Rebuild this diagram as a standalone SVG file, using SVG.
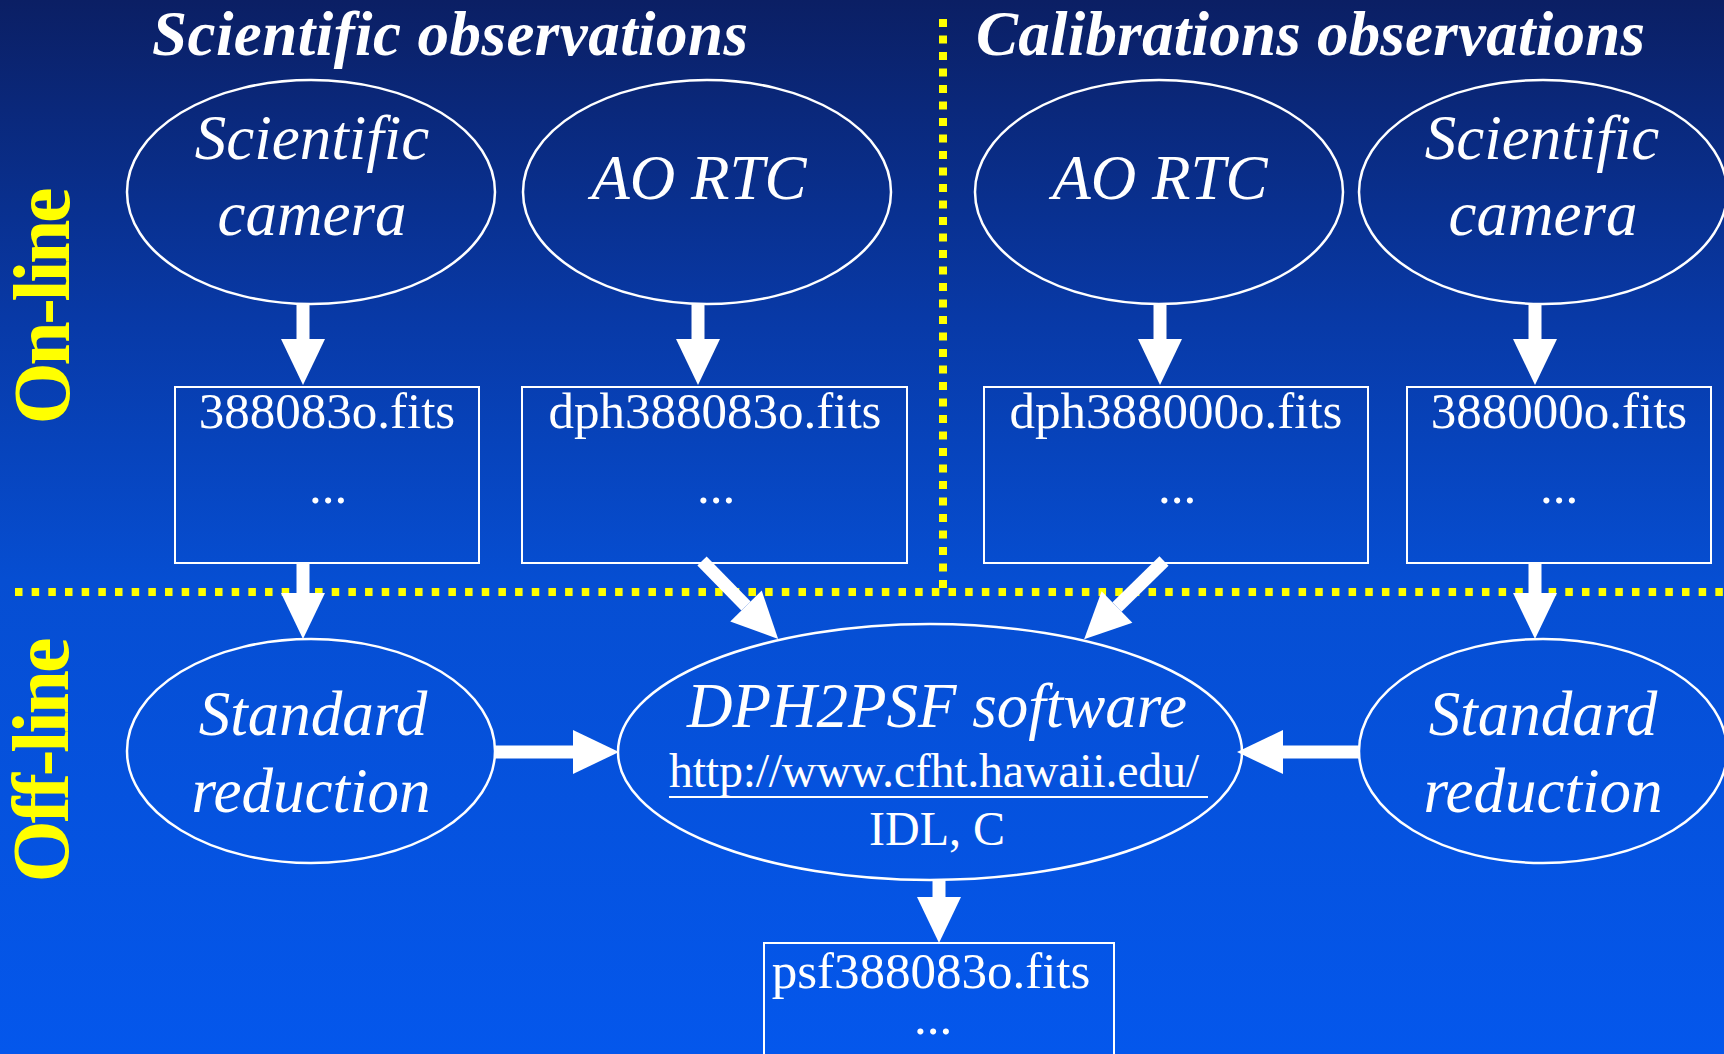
<svg xmlns="http://www.w3.org/2000/svg" width="1724" height="1054" viewBox="0 0 1724 1054">
  <defs>
    <linearGradient id="bg" x1="0" y1="0" x2="0" y2="1">
      <stop offset="0" stop-color="#0b1f64"/>
      <stop offset="0.3" stop-color="#0839a6"/>
      <stop offset="0.55" stop-color="#064ed2"/>
      <stop offset="1" stop-color="#0457ec"/>
    </linearGradient>
    <marker id="head" markerUnits="userSpaceOnUse" markerWidth="46" markerHeight="44" refX="0" refY="22" orient="auto" overflow="visible">
      <path d="M0,0 L46,22 L0,44 Z" fill="#ffffff"/>
    </marker>
  </defs>
  <style>
    .node { fill: none; stroke: #ffffff; stroke-width: 2.5; }
    .box { fill: none; stroke: #ffffff; stroke-width: 2; }
    .lbl { font-family: "Liberation Serif", "Times New Roman", serif; fill: #ffffff; text-anchor: middle; }
    .it { font-style: italic; font-size: 63px; }
    .file { font-size: 51px; }
    .small { font-size: 48px; }
    .title { font-family: "Liberation Serif", "Times New Roman", serif; font-style: italic; font-weight: bold; font-size: 63px; fill: #ffffff; }
    .side { font-family: "Liberation Serif", "Times New Roman", serif; font-weight: bold; font-size: 80px; fill: #ffff00; text-anchor: middle; }
    .arrow { stroke: #ffffff; stroke-width: 13; fill: none; marker-end: url(#head); }
    .dots { stroke: #ffff00; fill: none; }
  </style>

  <!-- background -->
  <rect x="0" y="0" width="1724" height="1054" fill="url(#bg)"/>

  <!-- section separators -->
  <g id="separators">
    <line class="dots" x1="943" y1="19" x2="943" y2="592" stroke-width="8" stroke-dasharray="8 8.5"/>
    <line class="dots" x1="15" y1="592" x2="1724" y2="592" stroke-width="8" stroke-dasharray="7.5 9.17"/>
  </g>

  <!-- headings -->
  <g id="headings">
    <text class="title" x="152" y="55" textLength="596">Scientific observations</text>
    <text class="title" x="976" y="55" textLength="669">Calibrations observations</text>
    <text class="side" transform="translate(69,306) rotate(-90)" textLength="237">On-line</text>
    <text class="side" transform="translate(68,760) rotate(-90)" textLength="245">Off-line</text>
  </g>

  <!-- connectors -->
  <g id="connectors">
    <line class="arrow" x1="303" y1="304" x2="303" y2="339"/>
    <line class="arrow" x1="698" y1="304" x2="698" y2="339"/>
    <line class="arrow" x1="1160" y1="304" x2="1160" y2="339"/>
    <line class="arrow" x1="1535" y1="304" x2="1535" y2="339"/>
    <line class="arrow" x1="303" y1="563" x2="303" y2="593"/>
    <line class="arrow" x1="1535" y1="563" x2="1535" y2="593"/>
    <line class="arrow" x1="702" y1="561" x2="746" y2="606"/>
    <line class="arrow" x1="1164" y1="561" x2="1117" y2="607"/>
    <line class="arrow" x1="495" y1="752" x2="573" y2="752"/>
    <line class="arrow" x1="1360" y1="752" x2="1283" y2="752"/>
    <line class="arrow" x1="939" y1="879" x2="939" y2="897"/>
  </g>

  <!-- on-line sources, scientific side -->
  <g id="sci-camera">
    <ellipse class="node" cx="311" cy="192" rx="184" ry="112"/>
    <text class="lbl it" x="312" y="159">Scientific</text>
    <text class="lbl it" x="312" y="235">camera</text>
  </g>
  <g id="sci-aortc">
    <ellipse class="node" cx="707" cy="192" rx="184" ry="112"/>
    <text class="lbl it" x="699" y="199">AO RTC</text>
  </g>

  <!-- on-line sources, calibration side -->
  <g id="cal-aortc">
    <ellipse class="node" cx="1159" cy="192" rx="184" ry="112"/>
    <text class="lbl it" x="1160" y="199">AO RTC</text>
  </g>
  <g id="cal-camera">
    <ellipse class="node" cx="1543" cy="192" rx="184" ry="112"/>
    <text class="lbl it" x="1542" y="159">Scientific</text>
    <text class="lbl it" x="1543" y="235">camera</text>
  </g>

  <!-- data files -->
  <g id="file-sci">
    <rect class="box" x="175" y="387" width="304" height="176"/>
    <text class="lbl file" x="327" y="428">388083o.fits</text>
    <text class="lbl file" x="328" y="503">...</text>
  </g>
  <g id="file-sci-dph">
    <rect class="box" x="522" y="387" width="385" height="176"/>
    <text class="lbl file" x="715" y="428">dph388083o.fits</text>
    <text class="lbl file" x="716" y="503">...</text>
  </g>
  <g id="file-cal-dph">
    <rect class="box" x="984" y="387" width="384" height="176"/>
    <text class="lbl file" x="1176" y="428">dph388000o.fits</text>
    <text class="lbl file" x="1177" y="503">...</text>
  </g>
  <g id="file-cal">
    <rect class="box" x="1407" y="387" width="304" height="176"/>
    <text class="lbl file" x="1559" y="428">388000o.fits</text>
    <text class="lbl file" x="1559" y="503">...</text>
  </g>

  <!-- off-line processing -->
  <g id="reduction-sci">
    <ellipse class="node" cx="311" cy="751" rx="184" ry="112"/>
    <text class="lbl it" x="313" y="735">Standard</text>
    <text class="lbl it" x="311" y="812">reduction</text>
  </g>
  <g id="dph2psf">
    <ellipse class="node" cx="930" cy="752" rx="312" ry="128"/>
    <text class="lbl it" x="937" y="727">DPH2PSF software</text>
    <text class="lbl small" x="934" y="787" textLength="530">http://www.cfht.hawaii.edu/</text>
    <line x1="669" y1="797" x2="1208" y2="797" stroke="#ffffff" stroke-width="2"/>
    <text class="lbl small" x="937" y="845">IDL, C</text>
  </g>
  <g id="reduction-cal">
    <ellipse class="node" cx="1543" cy="751" rx="184" ry="112"/>
    <text class="lbl it" x="1543" y="735">Standard</text>
    <text class="lbl it" x="1543" y="812">reduction</text>
  </g>

  <!-- result -->
  <g id="file-psf">
    <rect class="box" x="764" y="943" width="350" height="130"/>
    <text class="lbl file" x="931" y="988">psf388083o.fits</text>
    <text class="lbl file" x="933" y="1034">...</text>
  </g>
</svg>
